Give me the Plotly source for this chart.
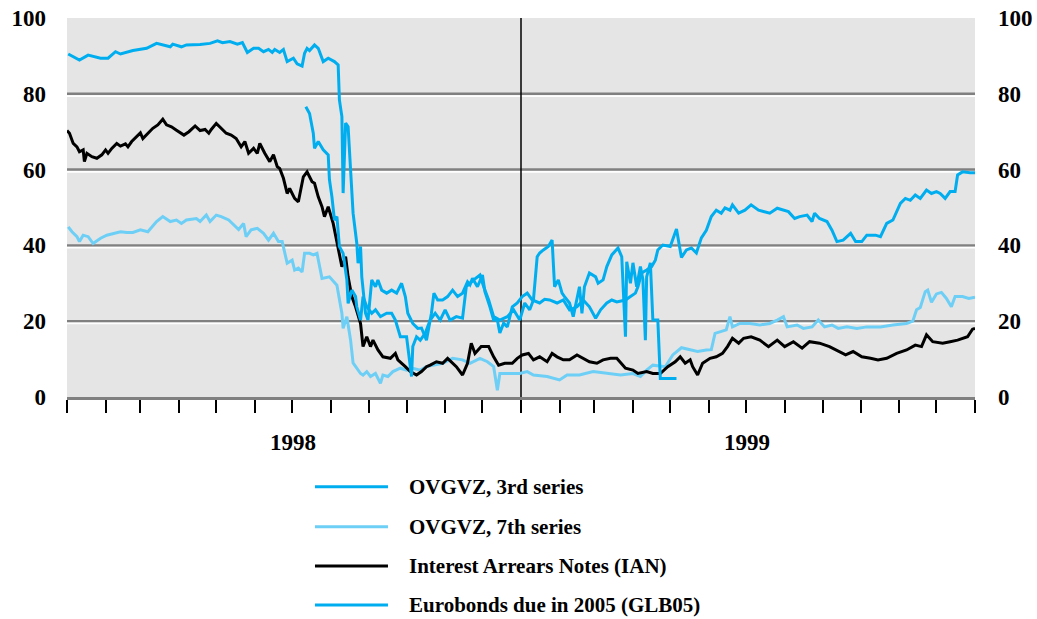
import pandas as pd
import plotly.graph_objects as go

# ---------------- data (days since 1998-01-01, price) ----------------
ovgvz3_days = [1, 10, 17, 27, 33, 39, 43, 53, 64, 72, 83, 85, 92, 96, 107, 115, 121, 125, 131, 137,
               141, 145, 150, 154, 158, 162, 165, 167, 171, 174, 177, 182, 185, 189, 191, 193, 195, 199,
               202, 206, 210, 215, 218, 219, 221, 222, 224, 226, 228, 230, 233, 234, 236, 237, 240, 242,
               245, 248, 250, 253, 257, 261, 265, 269, 272, 274, 278, 282, 285, 289, 293, 295, 298, 302,
               306, 310, 314, 318, 322, 324, 326, 330, 334, 336, 340, 343, 346, 348, 351, 354, 358, 362,
               366, 370, 374, 380, 384, 388, 394, 399, 404, 410, 415, 420, 425, 429, 434, 438, 442, 449,
               453, 457, 459, 462, 466, 470, 473, 475, 479, 485, 490, 494, 498, 502, 506, 510, 514, 518,
               522, 526, 529, 533, 535, 540, 545, 550, 556, 560, 565, 571, 576, 580, 585, 589, 595, 599,
               601, 605, 611, 615, 619, 624, 630, 634, 639, 643, 650, 654, 659, 664, 670, 674, 678, 682,
               686, 691, 695, 699, 702, 706, 710, 714, 716, 720, 726, 730]
ovgvz3_vals = [90.5, 88.9, 90.2, 89.4, 89.4, 91.1, 90.5, 91.4, 92.0, 93.3, 92.4, 93.1, 92.4, 92.9, 93.0,
               93.3, 94.0, 93.5, 93.8, 93.1, 93.5, 90.9, 92.0, 92.0, 91.1, 91.7, 90.9, 91.7, 90.9, 91.7,
               88.5, 89.4, 87.9, 87.3, 90.7, 92.0, 91.4, 92.9, 92.0, 88.5, 89.4, 88.5, 87.6, 78.4, 74.0,
               53.8, 72.3, 71.3, 59.9, 48.5, 40.5, 35.3, 39.7, 31.7, 22.1, 20.3, 30.9, 29.1, 30.9, 28.2,
               27.4, 28.2, 27.4, 30.0, 26.5, 22.1, 19.4, 18.1, 18.2, 15.0, 22.1, 27.4, 25.6, 25.6, 26.5,
               28.2, 26.5, 27.4, 30.4, 29.6, 31.3, 29.1, 32.2, 27.8, 23.8, 20.3, 20.3, 16.9, 19.5, 18.5,
               23.8, 24.8, 26.5, 27.4, 25.6, 24.8, 25.8, 25.6, 24.8, 25.6, 23.0, 23.8, 25.6, 23.8, 20.8,
               23.0, 24.8, 25.6, 25.1, 25.6, 26.5, 27.4, 29.1, 32.7, 33.5, 34.4, 36.1, 38.8, 40.1, 39.7,
               44.3, 36.8, 38.8, 39.3, 38.0, 42.0, 44.0, 47.6, 49.3, 48.5, 49.9, 49.3, 50.7, 48.5, 49.3,
               50.7, 49.3, 48.9, 48.5, 49.8, 49.3, 48.9, 47.1, 47.6, 48.0, 46.3, 48.5, 47.1, 46.3, 44.0,
               41.0, 41.4, 43.2, 41.0, 41.0, 42.7, 42.7, 42.3, 45.8, 46.7, 51.1, 52.4, 51.9, 53.3, 52.4,
               54.6, 53.7, 54.2, 53.7, 52.4, 54.2, 54.2, 58.6, 59.4, 59.2, 59.2]

ovgvz7_days = [1, 4, 8, 10, 13, 17, 21, 27, 32, 37, 43, 48, 53, 59, 65, 72, 77, 83, 88, 92, 96, 104,
               107, 112, 115, 120, 124, 130, 134, 138, 142, 144, 148, 153, 158, 162, 166, 170, 173, 177,
               181, 183, 186, 189, 191, 195, 198, 201, 205, 211, 217, 221, 222, 225, 228, 230, 236, 238,
               241, 244, 248, 252, 254, 258, 262, 268, 273, 278, 284, 289, 294, 302, 310, 318, 324, 332,
               338, 343, 346, 348, 354, 364, 370, 375, 386, 396, 402, 412, 423, 434, 445, 455, 461, 466,
               471, 481, 487, 494, 501, 507, 514, 518, 521, 525, 530, 533, 535, 541, 549, 557, 565, 571,
               576, 579, 587, 592, 599, 604, 609, 615, 620, 627, 635, 643, 654, 664, 675, 680, 683, 686,
               690, 692, 695, 699, 703, 707, 711, 714, 720, 725, 730]
ovgvz7_vals = [44.9, 43.6, 42.3, 41.0, 42.7, 42.3, 40.5, 41.9, 42.7, 43.2, 43.6, 43.4, 43.4, 44.1, 43.6,
               46.3, 47.6, 46.3, 46.7, 45.8, 46.7, 47.1, 46.3, 48.0, 46.3, 48.0, 47.6, 46.7, 45.4, 44.2,
               45.8, 42.3, 44.1, 44.5, 43.2, 41.4, 43.2, 41.0, 41.0, 35.3, 36.1, 33.5, 34.0, 33.0, 37.9,
               37.9, 37.5, 37.9, 31.3, 31.7, 29.5, 22.1, 18.1, 21.2, 15.0, 9.0, 6.2, 5.8, 6.7, 5.4, 6.2,
               3.6, 5.8, 5.4, 6.7, 7.6, 7.1, 7.6, 7.1, 8.0, 8.4, 8.9, 10.2, 9.8, 8.9, 10.2, 9.3, 8.0, 1.8,
               6.2, 6.2, 6.2, 6.7, 5.8, 5.4, 4.5, 5.8, 5.8, 6.7, 6.2, 5.8, 6.2, 5.4, 7.1, 8.4, 8.0, 11.1,
               13.0, 12.4, 12.0, 12.4, 12.5, 16.8, 17.2, 17.7, 21.2, 18.5, 19.4, 19.4, 19.0, 19.4, 20.3,
               21.2, 18.5, 19.0, 18.1, 18.5, 20.3, 18.5, 19.0, 18.1, 18.5, 18.1, 18.5, 18.5, 19.0, 19.4,
               20.0, 23.0, 23.6, 27.8, 28.2, 25.0, 27.2, 27.6, 26.0, 23.8, 26.5, 26.5, 26.0, 26.3]

ian_days = [0, 2, 5, 8, 10, 13, 14, 16, 20, 24, 28, 31, 33, 36, 40, 43, 47, 49, 52, 56, 59, 61, 65,
            69, 73, 77, 80, 84, 88, 94, 98, 103, 107, 111, 114, 116, 120, 124, 128, 132, 136, 140, 143,
            146, 150, 153, 155, 159, 163, 166, 169, 171, 174, 177, 179, 183, 186, 190, 193, 197, 199,
            202, 205, 207, 210, 214, 218, 221, 224, 226, 229, 232, 236, 238, 241, 244, 246, 250, 254,
            260, 264, 266, 272, 276, 281, 285, 289, 292, 297, 302, 306, 313, 318, 322, 325, 328, 333,
            339, 343, 347, 352, 358, 362, 366, 371, 375, 380, 386, 390, 394, 399, 404, 410, 415, 420,
            426, 431, 437, 442, 449, 455, 459, 466, 471, 477, 483, 489, 493, 497, 501, 503, 507, 511,
            517, 522, 527, 531, 535, 540, 544, 550, 557, 564, 571, 577, 584, 591, 597, 605, 613, 621,
            626, 632, 639, 646, 652, 659, 667, 675, 682, 687, 691, 696, 704, 710, 716, 724, 728, 730]
ian_vals = [70.3, 69.6, 66.9, 66.0, 64.7, 65.2, 62.1, 64.3, 63.4, 63.0, 63.9, 65.2, 64.3, 65.6, 66.9,
            66.2, 66.8, 66.0, 67.4, 68.7, 69.7, 68.2, 69.6, 70.9, 71.8, 73.3, 71.8, 71.3, 70.4, 69.1,
            70.0, 71.5, 70.3, 70.6, 69.6, 70.6, 72.2, 70.9, 69.6, 69.1, 68.2, 66.0, 67.4, 64.3, 65.6,
            64.3, 66.9, 64.3, 62.1, 63.9, 60.8, 60.3, 57.7, 53.7, 55.0, 52.4, 51.5, 58.1, 59.4, 56.8,
            56.4, 52.8, 50.2, 47.6, 50.2, 45.8, 38.8, 34.4, 37.0, 31.7, 26.5, 23.8, 19.4, 13.3, 15.9,
            13.3, 15.0, 12.4, 10.6, 10.2, 11.5, 9.8, 8.0, 6.7, 5.8, 6.7, 8.0, 8.4, 9.3, 8.9, 10.2, 8.0,
            5.8, 8.9, 14.2, 11.5, 13.3, 13.3, 10.6, 8.4, 8.9, 8.9, 10.2, 11.1, 11.5, 9.8, 10.6, 9.3,
            11.5, 10.6, 9.8, 9.8, 11.1, 10.2, 9.3, 8.9, 9.8, 10.2, 10.2, 7.6, 7.1, 6.2, 6.7, 6.2, 6.2,
            8.0, 9.3, 10.6, 8.9, 9.8, 8.0, 5.8, 8.9, 10.2, 10.6, 11.5, 13.3, 15.5, 14.2, 15.5, 15.9,
            15.0, 13.3, 15.0, 13.3, 14.6, 12.9, 14.6, 14.2, 13.3, 12.0, 11.1, 12.0, 10.6, 10.2, 9.8,
            10.2, 11.5, 12.4, 13.7, 13.3, 16.4, 14.6, 14.2, 14.6, 15.0, 15.9, 17.9, 18.1]

glb05_days = [192, 195, 198, 199, 202, 206, 210, 211, 213, 215, 217, 219, 222, 225, 226, 229, 232, 233,
              236, 238, 241, 245, 248, 252, 257, 261, 264, 268, 273, 277, 278, 281, 284, 288, 292, 296,
              300, 304, 308, 313, 318, 321, 327, 332, 335, 339, 343, 348, 354, 359, 364, 368, 372, 375,
              378, 380, 383, 387, 390, 392, 395, 398, 400, 404, 407, 410, 412, 414, 416, 420, 425, 427,
              431, 434, 438, 443, 446, 449, 450, 453, 455, 458, 461, 463, 465, 466, 469, 471, 475, 477,
              490]
glb05_vals = [76.6, 74.8, 69.6, 65.6, 67.4, 65.2, 63.9, 57.3, 52.8, 46.7, 47.6, 39.7, 37.9, 30.9, 24.7,
              28.2, 26.5, 23.8, 20.3, 26.5, 23.8, 22.1, 23.0, 21.2, 22.1, 22.1, 20.3, 15.9, 15.9, 5.4,
              13.3, 15.9, 15.0, 16.8, 20.3, 22.1, 20.3, 23.0, 20.3, 21.2, 20.8, 29.1, 30.9, 32.2, 29.1,
              25.6, 21.2, 20.3, 21.2, 23.0, 20.3, 24.8, 23.0, 25.6, 37.0, 38.0, 38.8, 39.7, 41.4, 29.1,
              30.9, 27.4, 26.5, 24.8, 21.2, 26.5, 29.1, 22.1, 29.1, 32.7, 31.7, 30.0, 30.9, 34.4, 37.5,
              39.3, 37.0, 15.9, 35.7, 30.0, 35.4, 29.1, 34.4, 31.0, 15.0, 31.7, 35.4, 20.3, 20.3, 4.9,
              4.9]

series_names = ["OVGVZ, 3rd series", "OVGVZ, 7th series", "Interest Arrears Notes (IAN)",
                "Eurobonds due in 2005 (GLB05)"]
series_colors = ["#00AEEF", "#6DCFF6", "#000000", "#00AEEF"]
year_labels = ["1998", "1999"]
y_ticks = [0, 20, 40, 60, 80, 100]

# ---------------- figure ----------------
base = pd.Timestamp("1998-01-01")


def to_dates(days):
    return base + pd.to_timedelta(days, unit="D")


FONT = "Liberation Serif"
fig = go.Figure()
all_series = [(ovgvz3_days, ovgvz3_vals), (ovgvz7_days, ovgvz7_vals), (ian_days, ian_vals),
              (glb05_days, glb05_vals)]
for (d, v), name, col in zip(all_series, series_names, series_colors):
    fig.add_trace(go.Scatter(x=to_dates(d), y=v, mode="lines", name=name,
                             line=dict(color=col, width=3), showlegend=False))

# dummy trace for the right-hand axis
fig.add_trace(go.Scatter(x=[base], y=[0], yaxis="y2", mode="markers",
                         marker=dict(opacity=0), showlegend=False, hoverinfo="skip"))

shapes = []
for g in y_ticks[1:-1]:
    shapes.append(dict(type="line", xref="paper", x0=0, x1=1, yref="y", y0=g, y1=g,
                       line=dict(color="#808080", width=2.5), layer="below"))
    shapes.append(dict(type="line", xref="paper", x0=0, x1=1, yref="y", y0=g - 0.6, y1=g - 0.6,
                       line=dict(color="#FFFFFF", width=1.8), layer="below"))
# year boundary
shapes.append(dict(type="line", xref="x", x0=to_dates([365])[0], x1=to_dates([365])[0],
                   yref="paper", y0=0, y1=1, line=dict(color="#000000", width=1.5), layer="below"))

annotations = []
for i, yl in enumerate(year_labels):
    annotations.append(dict(text=yl, x=to_dates([182 + 365 * i])[0], xref="x", y=-0.121,
                            yref="paper", showarrow=False, xanchor="center", yanchor="middle",
                            font=dict(family=FONT, size=23, color="#000000", weight="bold")))

# manual legend
leg_y = [-0.2367, -0.3422, -0.4459, -0.5488]
for name, col, ly in zip(series_names, series_colors, leg_y):
    shapes.append(dict(type="line", xref="paper", x0=0.2731, x1=0.3535, yref="paper", y0=ly, y1=ly,
                       line=dict(color=col, width=3)))
    annotations.append(dict(text=name, xref="paper", x=0.3744, yref="paper", y=ly, showarrow=False,
                            xanchor="left", yanchor="middle",
                            font=dict(family=FONT, size=21, color="#000000", weight="bold")))

axis_font = dict(family=FONT, size=23, color="#000000", weight="bold")
fig.update_layout(
    width=1037, height=619,
    margin=dict(l=67, r=62, t=18, b=222, pad=0, autoexpand=False),
    paper_bgcolor="#FFFFFF", plot_bgcolor="#E5E5E5",
    shapes=shapes, annotations=annotations,
    xaxis=dict(type="date", range=[base, to_dates([730])[0]], showgrid=False, zeroline=False,
               showline=True, linecolor="#808080", linewidth=2.5, automargin=False,
               ticks="outside", ticklen=13, tickwidth=1.5, tickcolor="#000000",
               dtick="M1", tick0="1998-01-01", showticklabels=False),
    yaxis=dict(range=[0, 100], tickvals=y_ticks, showgrid=False, zeroline=False, ticks="",
               tickfont=axis_font, ticklabelstandoff=20, automargin=False,
               ticklabeloverflow="allow"),
    yaxis2=dict(range=[0, 100], tickvals=y_ticks, overlaying="y", side="right", showgrid=False,
                zeroline=False, ticks="", tickfont=axis_font, ticklabelstandoff=22,
                automargin=False, ticklabeloverflow="allow"),
)

# remove the browser's default page margin so the figure fills the window exactly
fig.write_html("out.html", config={"displayModeBar": False},
               post_script="document.body.style.margin='0';document.body.style.overflow='hidden';")
